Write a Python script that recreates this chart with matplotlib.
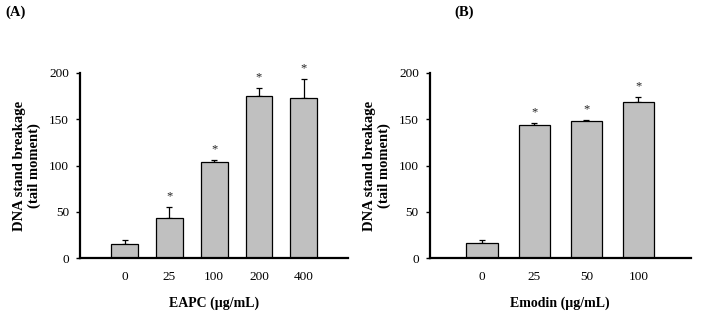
import matplotlib
matplotlib.use("Agg")
import matplotlib.pyplot as plt

plt.rcParams['font.family'] = ['Liberation Serif', 'DejaVu Serif']

# Panel A data
cats_a = ["0", "25", "100", "200", "400"]
vals_a = [15, 43, 104, 175, 173]
errs_a = [5, 12, 2, 9, 20]
star_a = [False, True, True, True, True]

# Panel B data
cats_b = ["0", "25", "50", "100"]
vals_b = [16, 144, 148, 168]
errs_b = [4, 2, 1, 6]
star_b = [False, True, True, True]

yticks = [0, 50, 100, 150, 200]

fig = plt.figure(figsize=(7.1, 3.22), dpi=100)

def panel(rect, cats, vals, errs, stars, xlabel, tag, tagx):
    ax = fig.add_axes(rect)
    x = list(range(len(cats)))
    ax.bar(x, vals, width=0.6, color='#c0c0c0', edgecolor='black', linewidth=0.9, zorder=2)
    ax.errorbar(x, vals, yerr=[[0]*len(errs), errs], fmt='none', ecolor='black',
                elinewidth=0.9, capsize=2.5, capthick=0.9, zorder=1)
    for xi, v, e, s in zip(x, vals, errs, stars):
        if s:
            ax.text(xi, v + e + 5, '*', ha='center', va='bottom', fontsize=9, color='#222222')
    ax.set_xlim(-1, len(cats))
    ax.set_ylim(0, 200)
    ax.set_yticks(yticks)
    ax.set_xticks(x)
    ax.set_xticklabels(cats)
    ax.tick_params(axis='x', length=0, pad=9, labelsize=9.5)
    ax.tick_params(axis='y', length=3, direction='out', width=1, pad=5, labelsize=9.5)
    for sp in ['top', 'right']:
        ax.spines[sp].set_visible(False)
    for sp in ['left', 'bottom']:
        ax.spines[sp].set_linewidth(1.6)
    ax.set_ylabel('DNA stand breakage\n(tail moment)', fontsize=10.5, fontweight='bold', labelpad=6,
                  linespacing=1.1)
    ax.set_xlabel(xlabel, fontsize=10, fontweight='bold', labelpad=10)
    fig.text(tagx, 0.962, tag, fontsize=10.5, fontweight='bold', va='center')
    return ax

panel([0.1127, 0.198, 0.378, 0.576], cats_a, vals_a, errs_a, star_a, 'EAPC (µg/mL)', '(A)', 0.007)
panel([0.6056, 0.198, 0.367, 0.576], cats_b, vals_b, errs_b, star_b, 'Emodin (µg/mL)', '(B)', 0.64)

fig.savefig('out.png', dpi=100)
